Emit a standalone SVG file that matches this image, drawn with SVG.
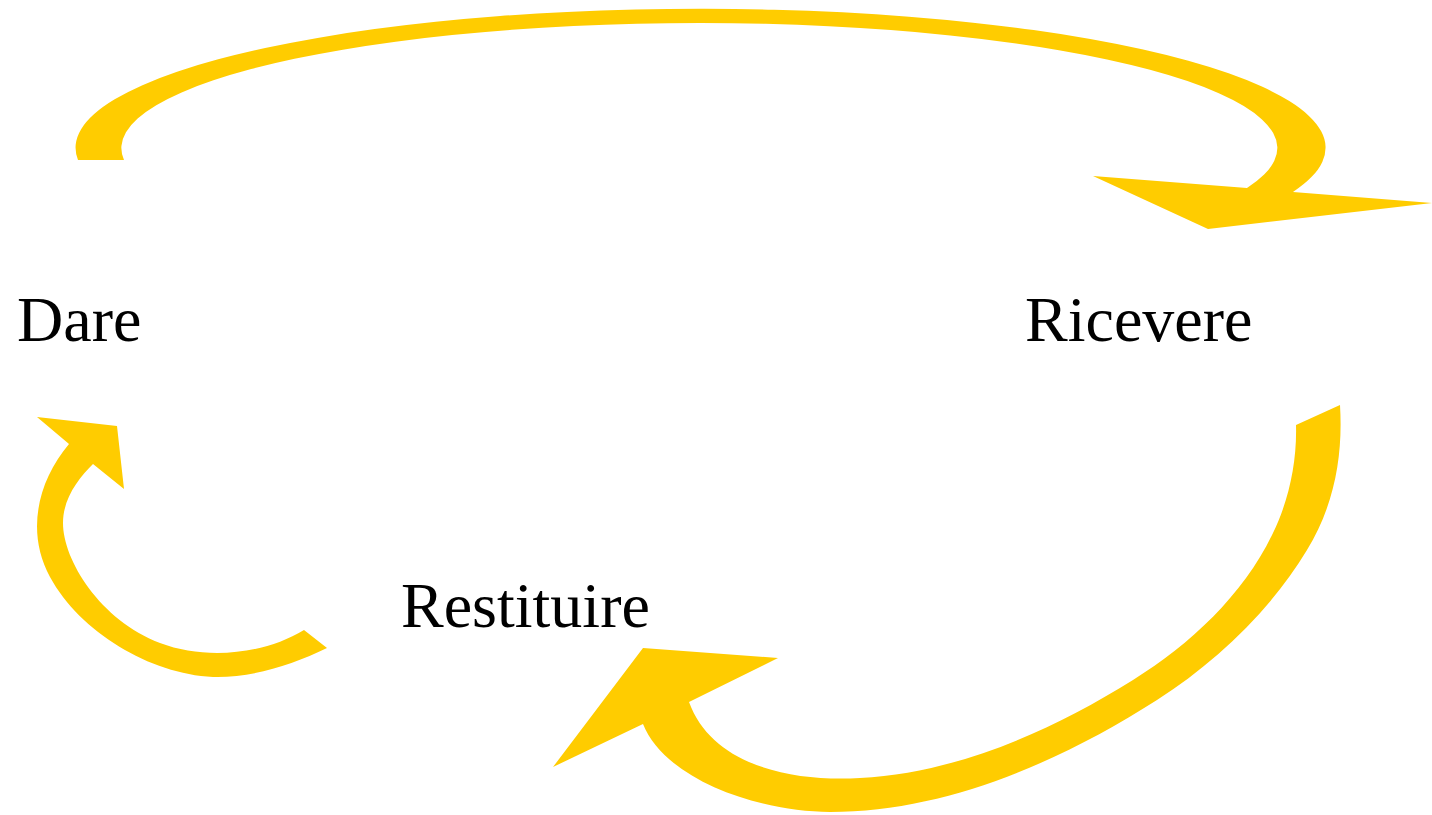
<svg xmlns="http://www.w3.org/2000/svg" width="1432" height="815" viewBox="0 0 1432 815">
<style>
.arr{fill:#FFCC00;stroke:none}
.lbl{font-family:"Liberation Serif","Times New Roman",serif;font-size:64px;fill:#000}
</style>
<rect width="1432" height="815" fill="#fff"/>
<g id="connectors">
<path id="arrow-dare-ricevere" class="arr" d="M78,160 A625,139 0 1 1 1293,192 L1432,203 L1208,229 L1093,176 L1247,188 A578,125 0 1 0 124,160 Z"/>
<path id="arrow-ricevere-restituire" class="arr" d="M1340,405 C1343,455 1335,504 1307,550 C1271,610 1216,662 1157,700 C1060,762 945,812 830,812 C760,812 665,780 643,724 L553,767 L643,648 L778,658 L689,702 C712,765 790,782 860,778 C957,773 1051,731 1133,680 C1191,644 1244,594 1273,533 C1289,500 1297,462 1296,425 Z"/>
<path id="arrow-restituire-dare" class="arr" d="M327,648 C292,665 252,678 213,677 C150,674 80,632 50,577 C26,533 37,482 69,444 L37,417 L117,426 L124,489 L93,464 C79,478 63,498 63,523 C63,560 100,620 160,643 C205,660 263,655 304,630 Z"/>
</g>
<g id="node-dare"><text class="lbl" x="17" y="341">Dare</text></g>
<g id="node-ricevere"><text class="lbl" x="1025" y="341">Ricevere</text></g>
<g id="node-restituire"><text class="lbl" x="401" y="627">Restituire</text></g>
</svg>
